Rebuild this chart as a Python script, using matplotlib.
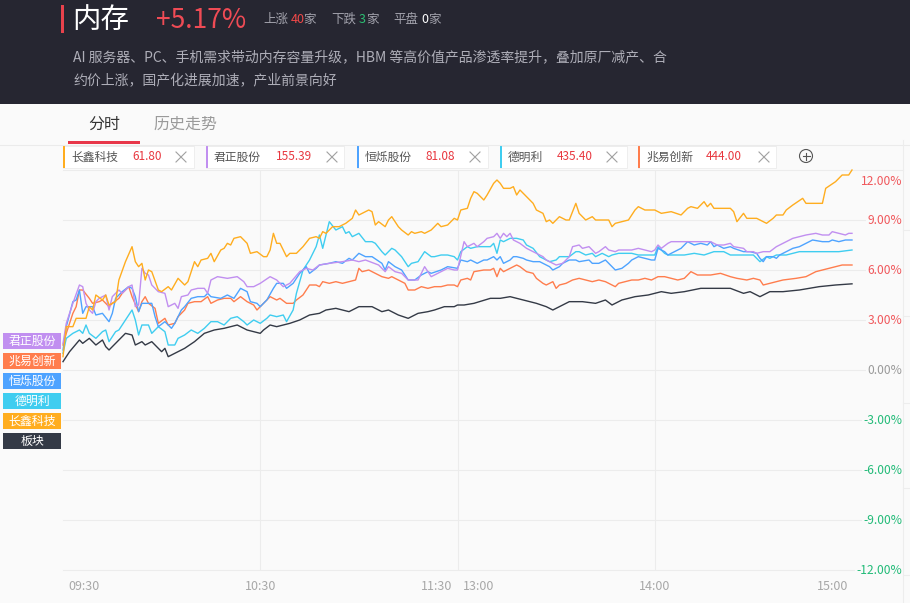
import matplotlib
matplotlib.use('Agg')
import matplotlib.pyplot as plt
from matplotlib.patches import Rectangle, Ellipse
from matplotlib.lines import Line2D
from matplotlib.transforms import blended_transform_factory

plt.rcParams['font.family'] = ['Noto Sans CJK SC', 'DejaVu Sans']

# ---------------- data ----------------
sector_name = '内存'
sector_change = '+5.17%'
up_count, down_count, flat_count = '40', '3', '0'
description = ['AI 服务器、PC、手机需求带动内存容量升级，HBM 等高价值产品渗透率提升，叠加原厂减产、合',
               '约价上涨，国产化进展加速，产业前景向好']
tabs = ['分时', '历史走势']

legend_names = ['长鑫科技', '君正股份', '恒烁股份', '德明利', '兆易创新']
legend_prices = ['61.80', '155.39', '81.08', '435.40', '444.00']

side_labels = ['君正股份', '兆易创新', '恒烁股份', '德明利', '长鑫科技', '板块']

tick_minutes = [0, 60, 120, 120, 180, 240]
tick_labels = ['09:30', '10:30', '11:30', '13:00', '14:00', '15:00']
y_ticks = [12, 9, 6, 3, 0, -3, -6, -9, -12]

# (trading minute since 09:30, % change)
changxin = [(0,0.8),(1,2.6),(3,2.6),(4,3.1),(7,3.1),(8,3.8),(9,3.6),(10,4.5),(12,4.2),(13,4.5),(14,3.9),(16,4.1),
    (17,5.4),(19,6.5),(21,7.4),(22,6.5),(23,6.2),(24,6.4),(25,5.4),(26,6.0),(27,5.9),(29,4.8),(30,4.7),(32,5.0),
    (33,4.8),(35,5.5),(37,5.1),(38,5.3),(40,6.5),(41,6.2),(42,6.6),(44,6.7),(45,7.0),(46,6.5),(48,7.2),(49,7.3),
    (50,7.6),(51,7.5),(52,7.9),(54,8.0),(56,7.6),(57,7.0),(59,7.1),(61,6.8),(62,6.8),(63,7.2),(64,8.2),(65,7.6),
    (66,7.6),(68,6.8),(69,7.0),(71,7.0),(73,7.4),(75,7.9),(77,8.0),(78,7.9),(79,8.3),(80,8.2),(82,8.6),(84,8.6),
    (86,8.8),(88,9.1),(89,9.6),(90,9.3),(93,9.6),(94,9.5),(95,8.7),(96,8.9),(98,8.6),(99,9.0),(100,9.2),(102,8.6),
    (103,8.4),(105,8.1),(106,8.3),(107,8.2),(109,8.3),(110,8.2),(112,8.4),(114,8.8),(115,8.6),(117,8.7),(119,9.1),
    (120,9.0),(121,9.6),(123,9.7),(124,10.3),(125,10.7),(126,10.6),(128,10.2),(129,10.5),(131,11.2),(132,11.4),
    (133,11.2),(134,10.9),(136,10.9),(137,11.0),(138,10.5),(139,10.8),(141,10.4),(143,10.0),(144,9.6),(146,9.4),
    (147,8.9),(148,9.0),(149,8.8),(151,9.2),(153,9.0),(154,9.0),(156,10.0),(157,9.4),(159,9.0),(161,9.2),(162,9.0),
    (165,9.0),(166,9.0),(167,8.6),(168,8.8),(170,8.9),(172,9.0),(174,9.6),(175,9.8),(177,9.6),(178,9.6),(180,9.6),
    (182,9.4),(185,9.5),(188,9.3),(190,9.7),(191,9.8),(193,9.7),(195,10.1),(196,9.8),(197,10.0),(198,9.7),
    (201,9.7),(203,9.7),(204,9.5),(205,8.9),(207,9.4),(208,9.1),(211,9.1),(214,8.8),(216,9.1),(217,9.3),(219,9.3),
    (220,9.6),(222,9.9),(225,10.3),(226,10.0),(231,10.0),(232,10.9),(235,11.3),(237,11.7),(239,11.7),(240,12.0)]

junzheng = [(0,1.6),(1,2.8),(3,4.0),(5,5.1),(6,5.0),(7,4.0),(8,3.6),(9,3.4),(10,4.1),(11,4.3),(13,4.5),(14,3.6),
    (15,4.4),(17,4.8),(18,4.6),(20,5.0),(21,5.1),(22,3.8),(23,3.9),(24,6.1),(25,5.8),(26,5.7),(27,5.1),(29,4.7),
    (31,4.6),(32,3.8),(34,4.0),(35,3.7),(36,4.4),(38,4.5),(39,4.8),(41,4.9),(43,4.9),(44,4.6),(45,5.4),(47,5.6),
    (50,5.5),(53,5.6),(55,5.3),(56,5.0),(58,5.0),(60,5.2),(63,5.6),(65,5.4),(67,5.0),(69,5.2),(72,5.9),(74,6.1),
    (76,6.0),(78,6.3),(81,6.4),(85,6.5),(88,6.6),(90,6.5),(92,6.6),(96,6.3),(98,5.9),(99,6.2),(101,5.9),(103,5.8),
    (105,5.4),(108,5.4),(110,6.2),(112,5.6),(115,5.9),(117,6.1),(119,6.0),(120,6.0),(122,7.7),(123,7.4),(125,7.6),
    (126,7.4),(128,7.7),(129,7.9),(131,8.0),(132,8.2),(133,7.9),(134,8.2),(135,8.0),(136,8.2),(137,7.8),(139,7.6),
    (141,7.3),(144,7.0),(146,6.8),(147,6.6),(149,6.4),(150,6.3),(152,6.4),(154,6.8),(155,7.4),(157,7.5),(158,7.3),
    (160,7.4),(162,7.0),(163,7.1),(165,7.4),(166,7.2),(168,7.1),(169,7.2),(171,7.2),(173,7.2),(175,7.3),(177,7.2),
    (179,7.1),(180,7.2),(181,7.5),(182,7.3),(184,7.6),(185,7.7),(187,7.7),(190,7.7),(193,7.7),(195,7.7),(197,7.7),
    (199,7.5),(201,7.5),(203,7.6),(204,7.4),(207,7.3),(208,7.1),(210,7.1),(211,7.0),(213,7.1),(215,7.1),(217,7.4),
    (218,7.5),(220,7.7),(222,7.9),(226,8.1),(229,8.2),(231,8.1),(233,8.1),(234,8.3),(236,8.2),(238,8.1),(239,8.2),
    (240,8.2)]

hengshuo = [(0,1.2),(1,2.6),(3,4.1),(4,4.2),(5,4.8),(6,3.4),(7,3.8),(9,3.8),(10,3.3),(12,3.4),(14,2.9),(15,3.4),
    (16,4.3),(18,4.7),(20,5.0),(21,4.9),(22,4.4),(23,3.5),(24,4.0),(25,4.0),(27,4.0),(28,3.2),(29,2.6),(31,2.9),
    (32,2.7),(33,2.5),(34,2.8),(35,3.2),(36,3.6),(37,3.8),(39,4.3),(41,4.4),(43,4.4),(44,4.6),(45,4.4),(48,4.3),
    (50,4.5),(52,4.3),(54,4.9),(56,4.7),(57,4.1),(59,4.0),(60,3.8),(62,4.2),(64,4.9),(65,5.2),(67,5.2),(68,4.9),
    (70,5.2),(72,5.8),(74,6.2),(75,5.8),(77,6.1),(78,6.3),(81,6.4),(83,6.5),(85,6.4),(87,6.7),(88,6.6),(90,7.0),
    (92,6.8),(94,6.8),(97,6.4),(98,6.0),(99,6.5),(101,6.2),(103,6.0),(105,5.4),(107,5.4),(109,5.7),(111,5.9),
    (112,5.8),(115,6.0),(117,6.2),(120,6.1),(121,6.6),(123,6.5),(124,6.6),(126,6.4),(128,6.6),(129,6.6),(131,6.8),
    (132,6.6),(133,6.8),(134,6.4),(136,6.6),(137,6.8),(138,6.8),(140,6.7),(141,6.6),(143,6.5),(145,6.5),(146,6.4),
    (148,6.2),(149,6.0),(151,6.2),(152,6.4),(154,6.6),(156,6.6),(157,6.5),(160,6.6),(161,6.4),(163,6.4),(165,6.6),
    (167,6.2),(168,6.0),(170,6.1),(172,6.4),(173,6.6),(175,6.8),(177,6.7),(179,6.6),(180,6.6),(181,7.3),(183,7.1),
    (184,6.9),(186,7.1),(188,7.3),(190,7.7),(192,7.5),(194,7.6),(196,7.5),(197,7.7),(198,7.4),(199,7.5),(201,7.3),
    (203,7.4),(204,7.3),(207,7.1),(209,7.1),(211,7.0),(212,6.7),(213,6.5),(214,6.8),(216,6.8),(217,6.7),(218,6.9),
    (220,7.1),(222,7.3),(224,7.4),(226,7.6),(228,7.8),(231,7.7),(233,7.7),(234,7.8),(236,7.7),(238,7.8),(240,7.8)]

deminli = [(0,1.0),(1,1.9),(3,2.2),(5,2.4),(6,2.2),(7,2.7),(8,2.2),(10,1.9),(12,2.3),(13,2.4),(14,1.7),(16,2.3),
    (17,2.4),(19,3.0),(21,3.6),(22,3.0),(23,2.1),(24,2.7),(26,2.7),(27,2.2),(29,2.6),(31,2.3),(32,1.5),(34,1.5),
    (35,1.9),(37,2.1),(39,2.4),(41,2.2),(43,2.5),(45,2.9),(47,2.9),(49,2.7),(51,3.1),(53,3.2),(55,2.9),(56,2.7),
    (58,3.0),(60,2.8),(62,3.1),(63,3.3),(65,3.2),(67,3.3),(68,2.9),(70,3.6),(71,4.6),(73,6.0),(75,6.6),(77,7.4),
    (78,8.1),(79,7.3),(81,8.9),(83,8.4),(85,8.6),(86,8.2),(87,8.3),(88,8.0),(90,8.2),(92,7.7),(94,7.7),(95,7.6),
    (97,7.1),(98,6.9),(100,7.3),(101,7.2),(103,6.8),(105,6.2),(106,6.4),(108,6.5),(110,7.1),(112,6.8),(113,6.8),
    (115,6.9),(117,6.9),(119,6.8),(120,6.6),(121,7.1),(123,7.4),(124,7.3),(126,7.4),(128,7.4),(130,7.4),(131,7.6),
    (132,7.0),(133,7.8),(134,7.7),(136,7.9),(138,7.9),(140,7.8),(141,7.5),(143,7.3),(145,6.8),(147,6.6),(148,6.5),
    (150,6.6),(151,6.8),(153,6.8),(154,6.8),(156,7.1),(157,7.1),(159,6.9),(161,7.0),(162,6.8),(164,7.0),(166,6.8),
    (167,6.9),(169,7.0),(171,7.0),(173,7.0),(175,6.9),(178,6.9),(180,6.9),(181,7.4),(183,7.0),(184,6.9),(187,6.9),
    (189,6.9),(192,7.0),(195,6.9),(198,7.1),(201,7.1),(203,6.9),(206,6.9),(208,6.9),(210,6.9),(212,6.5),(214,6.8),
    (215,6.7),(217,6.9),(220,6.9),(224,7.1),(230,7.1),(236,7.1),(240,7.2)]

zhaoyi = [(0,1.5),(1,2.2),(3,3.4),(4,3.8),(5,4.8),(6,4.8),(8,4.3),(9,4.0),(11,4.1),(12,4.2),(14,3.8),(15,4.0),
    (17,4.3),(18,4.6),(20,5.0),(21,4.4),(23,3.5),(24,4.1),(25,4.4),(26,4.0),(28,3.7),(29,2.8),(31,3.1),(32,2.7),
    (34,2.8),(35,3.2),(37,3.6),(38,4.0),(40,4.1),(42,4.1),(44,4.4),(45,4.0),(47,4.2),(49,4.3),(51,4.3),(52,4.1),
    (54,4.4),(56,4.1),(58,3.9),(59,3.6),(61,4.0),(63,4.4),(65,4.2),(66,4.3),(68,4.0),(70,4.0),(71,4.2),(73,4.5),
    (75,5.1),(77,5.1),(78,5.0),(79,5.3),(81,5.2),(83,5.3),(85,5.2),(87,5.3),(89,5.4),(90,6.1),(91,5.9),(93,6.0),
    (95,5.8),(97,5.6),(99,5.5),(100,5.6),(102,5.4),(104,5.2),(105,4.8),(107,4.8),(109,5.0),(111,4.9),(113,5.0),
    (115,5.0),(117,5.1),(119,5.1),(120,5.0),(121,5.4),(123,5.5),(124,5.4),(125,5.9),(128,6.0),(130,6.0),(131,6.1),
    (132,5.6),(133,6.1),(134,5.9),(135,6.0),(137,6.2),(138,6.3),(139,6.2),(141,5.9),(143,5.8),(144,5.5),(146,5.2),
    (147,5.1),(149,5.3),(150,4.9),(151,5.1),(153,5.2),(155,5.4),(157,5.5),(159,5.4),(161,5.3),(163,5.4),(165,5.3),
    (167,5.1),(168,5.0),(169,5.2),(171,5.3),(173,5.4),(175,5.4),(177,5.5),(179,5.4),(181,5.6),(183,5.6),(185,5.5),
    (187,5.4),(189,5.5),(191,5.9),(193,5.7),(195,5.7),(197,5.7),(200,5.8),(203,5.6),(205,5.5),(208,5.4),(210,5.5),
    (212,5.4),(213,5.1),(215,5.2),(219,5.4),(223,5.5),(226,5.6),(229,5.9),(231,6.0),(233,6.1),(235,6.2),(237,6.3),
    (240,6.3)]

sector = [(0,0.5),(2,1.1),(5,1.8),(6,1.6),(8,1.9),(10,1.5),(12,1.8),(13,1.4),(14,1.2),(16,1.6),(19,2.2),(21,2.1),
    (22,1.5),(24,1.7),(25,1.5),(27,1.7),(28,1.5),(30,1.1),(31,1.3),(32,0.8),(34,1.0),(37,1.3),(40,1.7),(43,2.2),
    (46,2.4),(49,2.5),(51,2.6),(53,2.7),(56,2.4),(58,2.3),(60,2.2),(61,2.4),(63,2.7),(65,2.6),(69,2.8),(72,3.0),
    (75,3.3),(78,3.4),(80,3.6),(83,3.7),(85,3.6),(87,3.5),(90,3.8),(94,3.8),(97,3.5),(99,3.6),(102,3.3),(105,3.1),
    (108,3.4),(111,3.5),(113,3.6),(116,3.8),(119,3.8),(120,3.9),(122,3.9),(125,4.0),(130,4.3),(133,4.3),(136,4.4),
    (140,4.2),(144,4.0),(147,3.8),(149,3.6),(152,3.9),(154,4.1),(158,4.1),(162,4.0),(165,4.2),(167,3.9),(170,4.2),
    (174,4.4),(178,4.5),(182,4.7),(185,4.6),(189,4.7),(194,4.9),(197,4.9),(203,4.9),(207,4.6),(209,4.7),(212,4.4),
    (215,4.7),(219,4.7),(224,4.8),(230,5.0),(235,5.1),(240,5.17)]

# ---------------- styling ----------------
C_CX, C_JZ, C_HS, C_DM, C_ZY, C_BK = '#ffad1f', '#c18ff0', '#4ea3ff', '#3fcdf0', '#ff7d4d', '#343a46'
series = [(zhaoyi, C_ZY), (deminli, C_DM), (hengshuo, C_HS), (junzheng, C_JZ), (changxin, C_CX), (sector, C_BK)]
legend_colors = [C_CX, C_JZ, C_HS, C_DM, C_ZY]
side_colors = [C_JZ, C_ZY, C_HS, C_DM, C_CX, C_BK]

W, H = 910, 603
fig = plt.figure(figsize=(W / 100, H / 100), dpi=100)
fig.patch.set_facecolor('#fafafa')

def fx(px):
    return px / W

def fy(py):
    return 1 - py / H

def frect(x0, y0, x1, y1, **kw):
    fig.add_artist(Rectangle((fx(x0), fy(y1)), (x1 - x0) / W, (y1 - y0) / H,
                             transform=fig.transFigure, **kw))

def fline(xs, ys, **kw):
    fig.add_artist(Line2D([fx(v) for v in xs], [fy(v) for v in ys], transform=fig.transFigure, **kw))

# header
frect(0, 0, W, 104, facecolor='#262631', edgecolor='none', zorder=0)
frect(61, 5, 64, 33, facecolor='#e8424c', edgecolor='none')
fig.text(fx(72), fy(19.5), sector_name, color='white', fontsize=20.5, va='center', ha='left')
fig.text(fx(156), fy(20), sector_change, color='#ef4b55', fontsize=19, va='center', ha='left')
stat_gray = '#a3a3ad'
for x, s, c in [(263, '上涨', stat_gray), (291, up_count, '#f04848'), (303.5, '家', stat_gray),
                (331, '下跌', stat_gray), (359, down_count, '#2cbf73'), (366, '家', stat_gray),
                (393, '平盘', stat_gray), (421, flat_count, '#ffffff'), (428, '家', stat_gray)]:
    fig.text(fx(x), fy(19.5), s, color=c, fontsize=9, va='center', ha='left')
fig.text(fx(73), fy(57), description[0], color='#aeaeb8', fontsize=10, va='center', ha='left')
fig.text(fx(73), fy(81), description[1], color='#aeaeb8', fontsize=10, va='center', ha='left')

# tabs
fig.text(fx(88), fy(124), tabs[0], color='#333333', fontsize=11.5, va='center', ha='left')
fig.text(fx(153), fy(124), tabs[1], color='#9a9a9a', fontsize=11.5, va='center', ha='left')
fline([0, W], [144.5, 144.5], color='#ebebeb', lw=0.8)
frect(68, 141.5, 140, 144, facecolor='#e8374a', edgecolor='none')

# legend chips
box_lr = [(63, 194), (206, 344), (357, 488), (500, 627), (638, 776)]
price_x = [132, 276, 426, 557, 706]
close_x = [181, 332, 475, 612, 764]
for (l, r), name, price, col, px_, cx in zip(box_lr, legend_names, legend_prices, legend_colors, price_x, close_x):
    frect(l, 146, r, 168, facecolor='white', edgecolor='#ececec', lw=0.6)
    frect(l, 146, l + 2, 168, facecolor=col, edgecolor='none')
    fig.text(fx(l + 8), fy(157), name, color='#555555', fontsize=8.5, va='center', ha='left')
    fig.text(fx(px_), fy(157), price, color='#e8373f', fontsize=8.5, va='center', ha='left')
    fline([cx - 5, cx + 5], [152, 162], color='#a0a0a0', lw=0.8)
    fline([cx - 5, cx + 5], [162, 152], color='#a0a0a0', lw=0.8)
fig.add_artist(Ellipse((fx(806), fy(156)), 13 / W, 13 / H, transform=fig.transFigure, facecolor='none',
                       edgecolor='#555555', lw=0.8))
fline([802.5, 809.5], [156, 156], color='#555555', lw=0.8)
fline([806, 806], [152.5, 159.5], color='#555555', lw=0.8)

# side labels
for i, (lab, col) in enumerate(zip(side_labels, side_colors)):
    yc = 341 + 20 * i
    frect(3, yc - 8, 61, yc + 8, facecolor=col, edgecolor='none')
    fig.text(fx(32), fy(yc), lab, color='white', fontsize=8.6, va='center', ha='center')

# right edge decoration
fline([903, 903], [140, 603], color='#ededed', lw=0.8)
for yy in [230, 316, 403, 488, 575]:
    fline([903, 910], [yy, yy], color='#ededed', lw=0.8)

# main chart
ax = fig.add_axes([fx(63), fy(570), (852 - 63) / W, 400 / H])
ax.set_xlim(0, 240)
ax.set_ylim(-12, 12)
ax.axis('off')
grid_c = '#ececec'
ext = (903 - 63) / (852 - 63)
for yv in y_ticks:
    ax.axhline(yv, xmin=0, xmax=ext, color=grid_c, lw=0.8, clip_on=False, zorder=0)
for m in sorted(set(tick_minutes[1:-1])):
    ax.axvline(m, color=grid_c, lw=0.8, zorder=0)

for pts, col in series:
    t, v = zip(*pts)
    ax.plot(t, v, color=col, lw=1.0, clip_on=False, solid_joinstyle='round', zorder=3)

blend = blended_transform_factory(ax.transAxes, ax.transData)
xr = (902 - 63) / (852 - 63)
for yv in y_ticks:
    col = '#f0585c' if yv > 0 else ('#9a9a9a' if yv == 0 else '#22bb78')
    off = -8.4 if yv == 12 else 0
    ax.annotate(f'{yv:.2f}%', xy=(xr, yv), xycoords=blend, xytext=(0, off), textcoords='offset points',
                ha='right', va='center', fontsize=8.7, color=col, annotation_clip=False,
                bbox=dict(facecolor='#fafafa', edgecolor='none', pad=1.0), zorder=5)

tick_ha = ['left', 'center', 'right', 'left', 'center', 'right']
tick_dx = [3.6, 0, -3.6, 3.6, 0, -2.9]
for m, lab, ha, dx in zip(tick_minutes, tick_labels, tick_ha, tick_dx):
    ax.annotate(lab, xy=(m, -12), xycoords='data', xytext=(dx, -12.2), textcoords='offset points',
                ha=ha, va='center', fontsize=9, color='#a8a8a8', annotation_clip=False)

fig.savefig('out.png', dpi=100, facecolor=fig.get_facecolor())
